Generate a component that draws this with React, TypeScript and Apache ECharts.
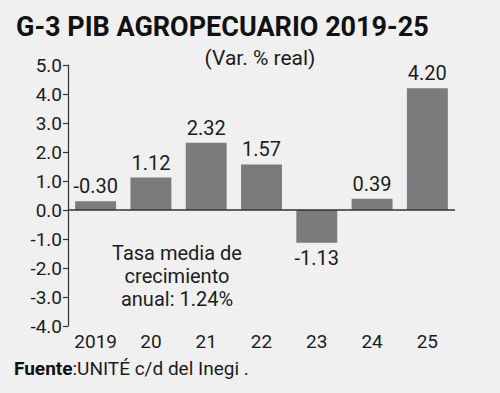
import React, { useEffect, useRef } from "react";
import * as echarts from "echarts";

const categories = ["2019", "20", "21", "22", "23", "24", "25"];
const values = [0.3, 1.12, 2.32, 1.57, -1.13, 0.39, 4.2];
const valueLabels = ["-0.30", "1.12", "2.32", "1.57", "-1.13", "0.39", "4.20"];
const yMin = -4;
const yMax = 5;
const yInterval = 1;

const FONT = "'Roboto', 'DejaVu Sans Condensed', sans-serif";
const TXT = "#1c1c1c";

export default function App() {
  const ref = useRef<HTMLDivElement>(null);
  useEffect(() => {
    if (!ref.current) return;
    const chart = echarts.init(ref.current, undefined, { renderer: "svg" });
    chart.setOption({
      animation: false,
      backgroundColor: "#f0f0f0",
      textStyle: { fontFamily: FONT },
      grid: { left: 68, right: 45, top: 65, bottom: 67, containLabel: false },
      xAxis: {
        type: "category",
        data: categories,
        axisLine: { show: false, onZero: false },
        axisTick: { show: false },
        axisLabel: { color: TXT, fontSize: 19, fontFamily: FONT, margin: 6, interval: 0 },
      },
      yAxis: {
        type: "value",
        min: yMin,
        max: yMax,
        interval: yInterval,
        splitLine: { show: false },
        axisLine: { show: true, lineStyle: { color: "#333", width: 1.2 } },
        axisTick: { show: true, length: 5, lineStyle: { color: "#333", width: 1.2 } },
        axisLabel: {
          color: TXT,
          fontSize: 19,
          fontFamily: FONT,
          margin: 6,
          formatter: (v: number) => v.toFixed(1),
        },
      },
      series: [
        {
          type: "bar",
          data: values.map((v, i) => ({
            value: v,
            label: {
              show: true,
              position: v < 0 ? "bottom" : "top",
              formatter: valueLabels[i],
            },
          })),
          barWidth: "74%",
          itemStyle: { color: "#7b7b7d" },
          label: { color: TXT, fontSize: 20, fontFamily: FONT, distance: 5 },
          markLine: {
            silent: true,
            symbol: "none",
            label: { show: false },
            lineStyle: { color: "#333", width: 1.5, type: "solid" },
            data: [{ yAxis: 0 }],
          },
        },
      ],
      graphic: [
        {
          type: "text",
          x: 16,
          y: 13,
          style: {
            text: "G-3 PIB AGROPECUARIO 2019-25",
            font: `bold 27px ${FONT}`,
            fill: "#111",
          },
        },
        {
          type: "text",
          x: 260,
          y: 58,
          style: {
            text: "(Var. % real)",
            font: `21px ${FONT}`,
            fill: TXT,
            align: "center",
            verticalAlign: "middle",
          },
        },
        {
          type: "text",
          x: 177,
          y: 276,
          style: {
            text: "Tasa media de\ncrecimiento\nanual: 1.24%",
            font: `20px ${FONT}`,
            lineHeight: 23,
            fill: TXT,
            align: "center",
            verticalAlign: "middle",
          },
        },
        {
          type: "text",
          x: 14,
          y: 368,
          style: {
            rich: {
              b: { font: `bold 19px ${FONT}`, fill: "#111" },
              n: { font: `19px ${FONT}`, fill: TXT },
            },
            text: "{b|Fuente}{n|:UNITÉ c/d del Inegi .}",
            verticalAlign: "middle",
          },
        },
      ],
    });
    return () => chart.dispose();
  }, []);
  return <div ref={ref} style={{ width: 500, height: 393, position: "absolute", left: 0, top: 0 }} />;
}
